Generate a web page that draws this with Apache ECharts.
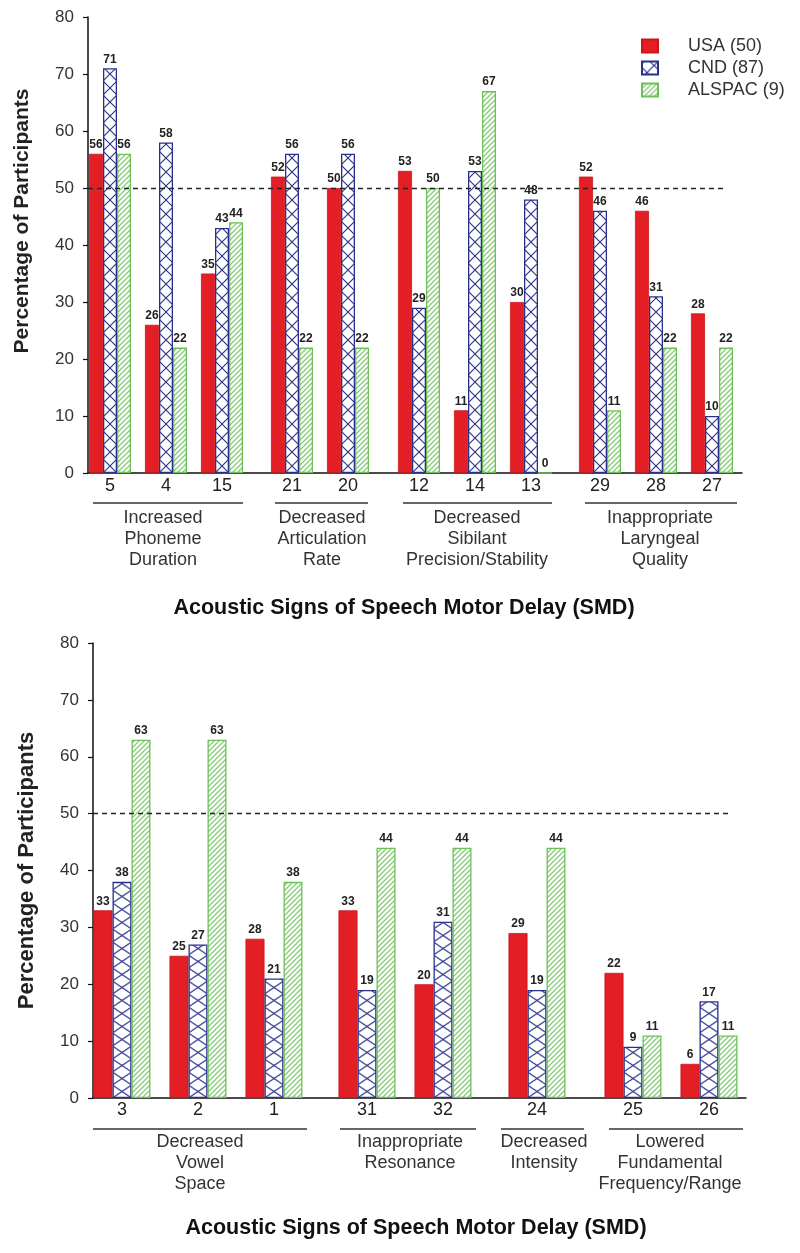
<!DOCTYPE html>
<html>
<head>
<meta charset="utf-8">
<script src="https://cdn.jsdelivr.net/npm/echarts@6/dist/echarts.min.js"></script>
<style>
html,body{margin:0;padding:0;background:#fff;}
#chart{width:800px;height:1253px;}
</style>
</head>
<body>
<div id="chart"></div>
<script>
// ---------------- DATA ----------------
const seriesNames = ['USA (50)', 'CND (87)', 'ALSPAC (9)'];

const topCategories = ['5', '4', '15', '21', '20', '12', '14', '13', '29', '28', '27'];
const topUSA    = [56, 26, 35, 52, 50, 53, 11, 30, 52, 46, 28];
const topCND    = [71, 58, 43, 56, 56, 29, 53, 48, 46, 31, 10];
const topALSPAC = [56, 22, 44, 22, 22, 50, 67, 0, 11, 22, 22];
const topGroupSizes = [3, 2, 3, 3];
const topGroupLabels = ['Increased\nPhoneme\nDuration', 'Decreased\nArticulation\nRate', 'Decreased\nSibilant\nPrecision/Stability', 'Inappropriate\nLaryngeal\nQuality'];

const bottomCategories = ['3', '2', '1', '31', '32', '24', '25', '26'];
const bottomUSA    = [33, 25, 28, 33, 20, 29, 22, 6];
const bottomCND    = [38, 27, 21, 19, 31, 19, 9, 17];
const bottomALSPAC = [63, 63, 38, 44, 44, 44, 11, 11];
const bottomGroupSizes = [3, 2, 1, 2];
const bottomGroupLabels = ['Decreased\nVowel\nSpace', 'Inappropriate\nResonance', 'Decreased\nIntensity', 'Lowered\nFundamental\nFrequency/Range'];

const yMin = 0, yMax = 80, yInterval = 10;
const thresholdValue = 50;
const xTitle = 'Acoustic Signs of Speech Motor Delay (SMD)';
const yTitle = 'Percentage of Participants';

// ---------------- STYLE / LAYOUT ----------------
const FONT = "'Liberation Sans', Arial, Helvetica, sans-serif";
const NARROW = "'Liberation Sans Narrow', 'Liberation Sans', Arial, sans-serif";
const RED = '#E41E25';
const NAVY = '#28308A';
const GREEN_LINE = '#86CB78';
const GREEN_BORDER = '#6DBF58';

const panels = [
  {
    cats: topCategories, usa: topUSA, cnd: topCND, als: topALSPAC,
    sizes: topGroupSizes, labels: topGroupLabels,
    axisLeft: 88, axisRight: 742, top: 17, bottom: 473,
    band: 56, bar: 14, hatchH: 14, labelMargin: 4,
    groupLefts: [82, 264, 391, 572],
    dashEnd: 727,
    nameSize: 21, nameGap: 55, nameShift: 48,
    underlines: [[93, 243], [275, 368], [403, 552], [585, 737]], underY: 503,
    textX: [163, 322, 477, 660], textY: 507.5,
    titleX: 404, titleY: 608
  },
  {
    cats: bottomCategories, usa: bottomUSA, cnd: bottomCND, als: bottomALSPAC,
    sizes: bottomGroupSizes, labels: bottomGroupLabels,
    axisLeft: 93, axisRight: 746, top: 643, bottom: 1098,
    band: 76, bar: 19, hatchH: 13, labelMargin: 3,
    groupLefts: [84, 329, 499, 595],
    dashEnd: 730,
    nameSize: 22, nameGap: 55, nameShift: 0,
    underlines: [[93, 307], [340, 476], [501, 584], [609, 743]], underY: 1129,
    textX: [200, 410, 544, 670], textY: 1131.5,
    titleX: 416, titleY: 1228
  }
];

function crossPattern(w, h, ox, oy) {
  const c = document.createElement('canvas');
  c.width = w; c.height = h;
  const g = c.getContext('2d');
  g.fillStyle = '#ffffff'; g.fillRect(0, 0, w, h);
  g.strokeStyle = NAVY; g.lineWidth = 1.1;
  g.beginPath();
  g.moveTo(0, 0); g.lineTo(w, h);
  g.moveTo(w, 0); g.lineTo(0, h);
  g.stroke();
  return { image: c, repeat: 'repeat', x: ox, y: oy };
}
function hatchPattern() {
  const s = 5;
  const c = document.createElement('canvas');
  c.width = s; c.height = s;
  const g = c.getContext('2d');
  g.fillStyle = '#ffffff'; g.fillRect(0, 0, s, s);
  g.strokeStyle = GREEN_LINE; g.lineWidth = 1.3;
  g.beginPath();
  g.moveTo(-1, s + 1); g.lineTo(s + 1, -1);
  g.moveTo(-1, 1); g.lineTo(1, -1);
  g.moveTo(s - 1, s + 1); g.lineTo(s + 1, s - 1);
  g.stroke();
  return { image: c, repeat: 'repeat' };
}
const greenFill = hatchPattern();

const grids = [], xAxes = [], yAxes = [], series = [], graphics = [];
const barLabel = { show: true, position: 'top', distance: 3, fontSize: 12, fontWeight: 'bold', fontFamily: NARROW, color: '#222' };

panels.forEach((p) => {
  // main axis grid
  const gi = grids.length;
  grids.push({ left: p.axisLeft, top: p.top, width: p.axisRight - p.axisLeft, height: p.bottom - p.top, containLabel: false });
  const xi = xAxes.length;
  xAxes.push({
    gridIndex: gi, type: 'value', min: 0, max: 100,
    axisLine: { show: true, lineStyle: { color: '#111', width: 1.5 } },
    axisTick: { show: false }, axisLabel: { show: false }, splitLine: { show: false }
  });
  const yi = yAxes.length;
  yAxes.push({
    gridIndex: gi, type: 'value', min: yMin, max: yMax, interval: yInterval,
    axisLine: { show: true, lineStyle: { color: '#111', width: 1.5 } },
    axisTick: { show: true, inside: false, length: 5, lineStyle: { color: '#111', width: 1.2 } },
    axisLabel: { fontSize: 17, color: '#333', fontFamily: FONT, margin: 14 },
    splitLine: { show: false },
    name: yTitle, nameLocation: 'middle', nameGap: p.nameGap,
    nameTextStyle: { fontSize: p.nameSize, fontWeight: 'bold', color: '#222', fontFamily: FONT, padding: [0, 0, 0, p.nameShift] }
  });
  const frac = (p.dashEnd - p.axisLeft) / (p.axisRight - p.axisLeft) * 100;
  series.push({
    type: 'line', xAxisIndex: xi, yAxisIndex: yi, data: [], silent: true,
    markLine: {
      silent: true, symbol: ['none', 'none'], label: { show: false },
      lineStyle: { type: [5, 4], color: '#222', width: 1.3 },
      data: [[{ coord: [0, thresholdValue] }, { coord: [frac, thresholdValue] }]]
    }
  });

  // group grids
  let start = 0;
  p.sizes.forEach((n, k) => {
    const cats = p.cats.slice(start, start + n);
    const usa = p.usa.slice(start, start + n);
    const cnd = p.cnd.slice(start, start + n);
    const als = p.als.slice(start, start + n);
    start += n;
    const left = p.groupLefts[k];
    const g = grids.length;
    grids.push({ left: left, top: p.top, width: n * p.band, height: p.bottom - p.top, containLabel: false });
    const gx = xAxes.length;
    xAxes.push({
      gridIndex: g, type: 'category', data: cats,
      axisLine: { show: false }, axisTick: { show: false },
      axisLabel: { fontSize: 18, color: '#222', fontFamily: FONT, margin: p.labelMargin, interval: 0 }
    });
    const gy = yAxes.length;
    yAxes.push({ gridIndex: g, type: 'value', min: yMin, max: yMax, interval: yInterval, show: false });
    const blueLeft = left + p.band / 2 - p.bar / 2;
    const common = { type: 'bar', xAxisIndex: gx, yAxisIndex: gy, barWidth: p.bar, barGap: '0%', label: barLabel, z: 3 };
    series.push(Object.assign({}, common, {
      name: seriesNames[0], data: usa,
      itemStyle: { color: RED, borderColor: '#C8161C', borderWidth: 0.8 }
    }));
    series.push(Object.assign({}, common, {
      name: seriesNames[1], data: cnd,
      itemStyle: { color: crossPattern(p.bar, p.hatchH, blueLeft, p.bottom), borderColor: NAVY, borderWidth: 1.3 }
    }));
    series.push(Object.assign({}, common, {
      name: seriesNames[2], data: als,
      itemStyle: { color: greenFill, borderColor: GREEN_BORDER, borderWidth: 1.3 }
    }));
  });

  // group underline & labels
  p.underlines.forEach((u, k) => {
    graphics.push({ type: 'line', silent: true, shape: { x1: u[0], y1: p.underY, x2: u[1], y2: p.underY }, style: { stroke: '#333', lineWidth: 1.5 } });
    graphics.push({
      type: 'text', silent: true, x: p.textX[k], y: p.textY,
      style: { text: p.labels[k], fontSize: 18, fontFamily: FONT, fill: '#333', align: 'center', verticalAlign: 'top', lineHeight: 21 }
    });
  });
  graphics.push({
    type: 'text', silent: true, x: p.titleX, y: p.titleY,
    style: { text: xTitle, fontSize: 21.5, fontWeight: 'bold', fontFamily: FONT, fill: '#111', align: 'center', verticalAlign: 'middle' }
  });
});

const chart = echarts.init(document.getElementById('chart'), null, { renderer: 'canvas' });
chart.setOption({
  animation: false,
  backgroundColor: '#ffffff',
  legend: {
    data: seriesNames, orient: 'vertical', left: 636, top: 32,
    itemWidth: 16, itemHeight: 13, itemGap: 4, selectedMode: false, icon: 'rect',
    textStyle: { fontSize: 18, color: '#333', fontFamily: FONT, padding: [0, 0, 0, 25] }
  },
  grid: grids,
  xAxis: xAxes,
  yAxis: yAxes,
  series: series,
  graphic: graphics
});
</script>
</body>
</html>
